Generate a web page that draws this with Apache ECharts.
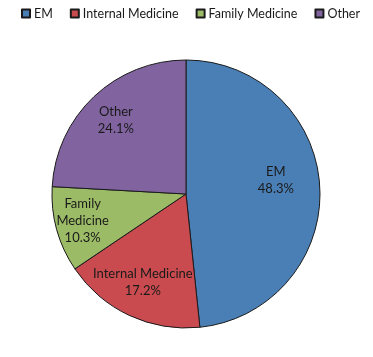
<!DOCTYPE html>
<html>
<head>
<meta charset="utf-8">
<script src="https://cdn.jsdelivr.net/npm/echarts@6/dist/echarts.min.js"></script>
<style>
  html, body { margin: 0; padding: 0; background: #fff; }
  #chart { width: 373px; height: 357px; }
</style>
</head>
<body>
<div id="chart"></div>
<script>
const categories = ["EM", "Internal Medicine", "Family Medicine", "Other"];
const shares = [48.3, 17.2, 10.3, 24.1];
const colors = ["#4a7fb6", "#c94b4f", "#9bbb66", "#8163a0"];

const chart = echarts.init(document.getElementById("chart"));

const pieData = categories.map((name, i) => ({
  name,
  value: shares[i],
  itemStyle: { color: colors[i] },
}));

chart.setOption({
  animation: false,
  textStyle: { fontFamily: "Lato" },
  legend: {
    top: 2,
    left: 16,
    itemWidth: 8,
    itemHeight: 8,
    itemGap: 17,
    icon: "rect",
    textStyle: { fontSize: 12.5, color: "#1a1a1a", padding: [0, 0, 0, -1] },
    data: categories,
  },
  series: [
    {
      type: "pie",
      center: [186, 194],
      radius: 134,
      startAngle: 90,
      clockwise: true,
      silent: true,
      label: { show: false },
      labelLine: { show: false },
      itemStyle: { borderColor: "#1a1a1a", borderWidth: 1 },
      data: pieData,
    },
    {
      // invisible ring used only to place the labels further out
      type: "pie",
      center: [186, 194],
      radius: [64, 134],
      startAngle: 90,
      clockwise: true,
      silent: true,
      legendHoverLink: false,
      itemStyle: { color: "transparent", borderWidth: 0 },
      label: {
        show: true,
        position: "inside",
        color: "#1a1a1a",
        fontSize: 13,
        lineHeight: 17,
        formatter: (p) =>
          (p.name === "Family Medicine" ? "Family\nMedicine" : p.name) +
          "\n" + p.value.toFixed(1) + "%",
      },
      labelLine: { show: false },
      data: categories.map((name, i) => ({
        name,
        value: shares[i],
        label: name === "EM" ? { offset: [-12, -8] }
          : name === "Family Medicine" ? { offset: [-5, 0] }
          : name === "Internal Medicine" ? { offset: [0, -4] }
          : {},
      })),
    },
  ],
});
</script>
</body>
</html>
